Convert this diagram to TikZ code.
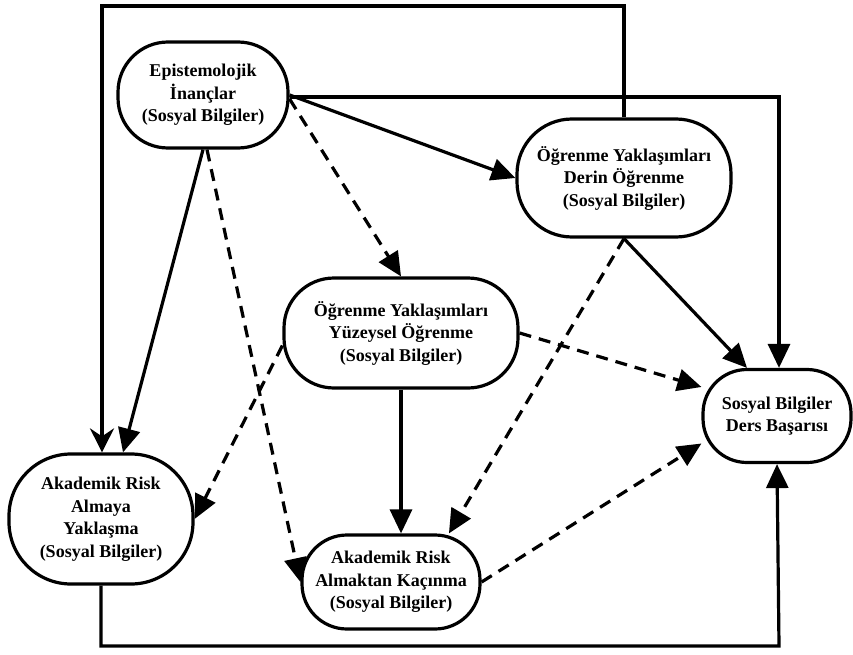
\documentclass[tikz,border=0pt]{standalone}
\usepackage{fontspec}
\setmainfont{Liberation Serif}
\usetikzlibrary{positioning,calc,arrows.meta}

\begin{document}
\begin{tikzpicture}[x=1pt,y=1pt,>={Triangle[length=24pt,width=22pt]}]

	\tikzset{
		factor/.style={draw=black, line width=3.2pt, rounded corners=50pt, align=center,
			font=\fontsize{18}{22.5}\selectfont\bfseries, inner sep=0pt},
		direct/.style={->, line width=3.2pt},
		indirect/.style={->, line width=3.2pt, dash pattern=on 12pt off 8pt}
	}

	\useasboundingbox (0,0) rectangle (853,-655);

	% ===== FAKTÖRLER =====
	\node[factor, minimum width=170pt, minimum height=106pt] (epist) at (203,-95)
	{Epistemolojik\\İnançlar\\(Sosyal Bilgiler)};

	\node[factor, minimum width=214pt, minimum height=118pt, rounded corners=55pt] (derin) at (624,-178)
	{Öğrenme Yaklaşımları\\Derin Öğrenme\\(Sosyal Bilgiler)};

	\node[factor, minimum width=234pt, minimum height=110pt] (yuzey) at (401,-333)
	{Öğrenme Yaklaşımları\\Yüzeysel Öğrenme\\(Sosyal Bilgiler)};

	\node[factor, minimum width=148pt, minimum height=93pt, rounded corners=44pt] (basari) at (777,-416)
	{Sosyal Bilgiler\\Ders Başarısı};

	\node[factor, minimum width=184pt, minimum height=130pt, rounded corners=62pt] (yaklas) at (101,-519)
	{Akademik Risk\\Almaya\\Yaklaşma\\(Sosyal Bilgiler)};

	\node[factor, minimum width=178pt, minimum height=94pt, rounded corners=45pt] (kacin) at (391,-582)
	{Akademik Risk\\Almaktan Kaçınma\\(Sosyal Bilgiler)};

	% ===== DIŞ ÇERÇEVE YOLLARI =====
	\coordinate (topleft) at (102,-6);
	\coordinate (botright) at (779,-646);

	\draw[line width=3.2pt, -{Stealth[length=24pt,width=24pt,inset=8pt]}]
	(derin.north) |- (topleft) -- (topleft |- yaklas.north);

	\draw[direct] ([yshift=-2pt]epist.east) -| ([xshift=2pt]basari.north);

	\draw[direct] (yaklas.south) |- (botright) -- (basari.south);

	% ===== DÜZ OKLAR =====
	\draw[direct] (epist.east) -- (derin.west);
	\draw[direct] (epist.south) -- ([xshift=22pt]yaklas.north);
	\draw[direct] (yuzey.south) -- (yuzey.south |- kacin.north);
	\draw[direct] (derin.south) -- ([xshift=-30pt]basari.north);

	% ===== KESİKLİ OKLAR =====
	\draw[indirect] ([yshift=-4pt]epist.east) -- (yuzey.north);
	\draw[indirect] ([xshift=4pt]epist.south) -- (kacin.west);
	\draw[indirect] (yuzey.-174) -- (yaklas.east);
	\draw[indirect] (yuzey.east) -- (basari.159);
	\draw[indirect] (derin.south) -- (kacin.40);
	\draw[indirect] (kacin.east) -- (basari.200);

\end{tikzpicture}
\end{document}
